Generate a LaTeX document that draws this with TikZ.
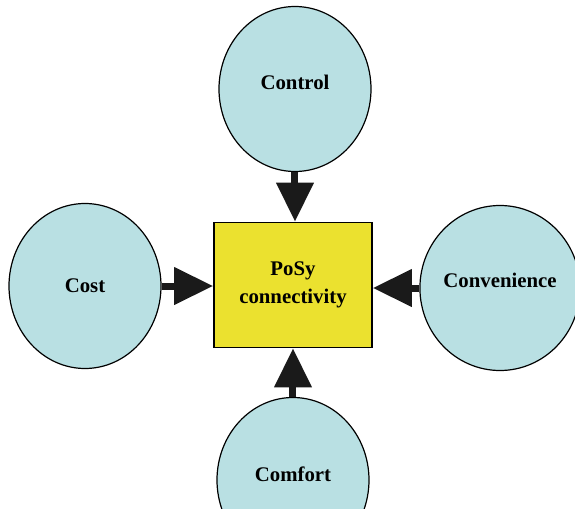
\documentclass[tikz,border=0pt]{standalone}
\usepackage{fontspec}
\setmainfont{Liberation Serif}
\usepackage{tikz}
\usetikzlibrary{arrows.meta,shapes.geometric,positioning}

\definecolor{hubyellow}{HTML}{EBE12F}
\definecolor{aspectblue}{HTML}{B9E0E3}
\definecolor{arrblack}{HTML}{1A1A1A}

\begin{document}
\begin{tikzpicture}[
    x=0.5pt, y=-0.5pt,
    aspect/.style={ellipse, draw, line width=0.6pt, fill=aspectblue, minimum width=76pt, minimum height=82.5pt, inner sep=0pt, font=\fontsize{10.4}{14}\selectfont\bfseries},
    hub/.style={rectangle, draw, line width=0.8pt, fill=hubyellow, minimum width=79pt, minimum height=62.5pt, align=center, font=\fontsize{10.4}{14}\selectfont\bfseries},
    arr/.style={-{Triangle[length=19.5pt, width=18pt]}, line width=3.5pt, draw=arrblack, fill=arrblack}
]
\useasboundingbox (0,0) rectangle (575,509);
\clip (0,0) rectangle (575,509);

\node[hub] (posy) at (293,285) {PoSy\\connectivity};
\node[aspect] (control) at (295,89) {\smash{Control}};
\node[aspect] (cost) at (85,286) {Cost};
\node[aspect] (conv) at (500,288) {\smash{\raisebox{0.5pt}{Convenience}}};
\node[aspect] (comfort) at (293,480) {\smash{\raisebox{-1pt}{Comfort}}};

\draw[arr] (control.south) -- (control.south |- posy.north);
\draw[arr] (cost.east) -- (posy.west |- cost.east);
\draw[arr] (conv.west) -- (posy.east |- conv.west);
\draw[arr] (comfort.north) -- (posy.south);
\end{tikzpicture}
\end{document}
